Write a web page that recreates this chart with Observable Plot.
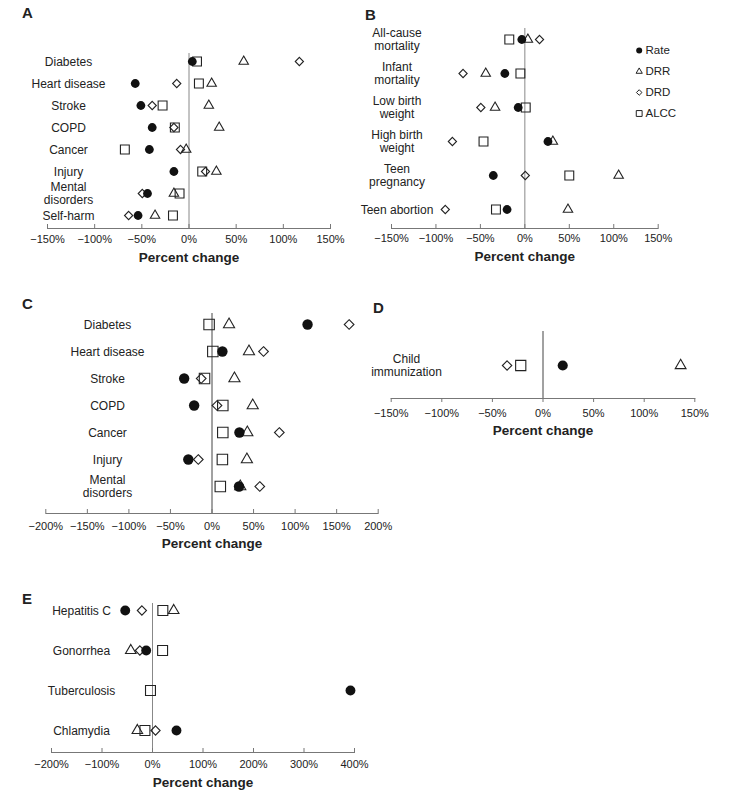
<!DOCTYPE html>
<html>
<head>
<meta charset="utf-8">
<script src="https://cdn.jsdelivr.net/npm/d3@7"></script>
<script src="https://cdn.jsdelivr.net/npm/@observablehq/plot@0.6"></script>
<style>
  body { margin: 0; background: #fff; }
  #root { position: relative; width: 732px; height: 810px; background: #fff; font-family: "Liberation Sans", Arial, sans-serif; color: #222; }
  .letter { position: absolute; font-weight: bold; font-size: 15px; line-height: 1; }
  .pnl { position: absolute; line-height: 0; }
  .pnl svg { overflow: visible; display: block; }
</style>
</head>
<body>
<div id="root"></div>
<script>
// ---------- data ----------
const seriesNames = ["Rate", "DRR", "DRD", "ALCC"];

// Panel A
const catsA = ["Diabetes", "Heart disease", "Stroke", "COPD", "Cancer", "Injury", "Mental\ndisorders", "Self-harm"];
const rateA = [3.5, -57, -51, -39, -42, -16, -44, -54];
const drrA  = [58, 24, 21, 32, -3, 29, -16, -36];
const drdA  = [117, -13, -39, -16, -9, 17.5, -49.5, -64];
const alccA = [8.5, 10.5, -28, -15, -68, 14, -10, -17];
const ticksA = [-150, -100, -50, 0, 50, 100, 150];

// Panel B
const catsB = ["All-cause\nmortality", "Infant\nmortality", "Low birth\nweight", "High birth\nweight", "Teen\npregnancy", "Teen abortion"];
const rateB = [-3.4, -22.5, -7.5, 26, -35.5, -20];
const drrB  = [3.4, -44, -33.5, 31.5, 105.5, 48.5];
const drdB  = [16.5, -69.5, -49.5, -81.5, 0.5, -89.5];
const alccB = [-17.5, -5, 1, -46.5, 50, -32.5];
const ticksB = [-150, -100, -50, 0, 50, 100, 150];

// Panel C
const catsC = ["Diabetes", "Heart disease", "Stroke", "COPD", "Cancer", "Injury", "Mental\ndisorders"];
const rateC = [115, 12.5, -33.5, -21.5, 33, -28.5, 32.5];
const drrC  = [20.5, 44.5, 27, 49, 42.5, 42, 34];
const drdC  = [165, 62, -13, 6, 81, -16.5, 57.5];
const alccC = [-3.5, 1, -9, 13, 13, 12.5, 10];
const ticksC = [-200, -150, -100, -50, 0, 50, 100, 150, 200];

// Panel D
const catsD = ["Child\nimmunization"];
const rateD = [19.5];
const drrD  = [136];
const drdD  = [-35.5];
const alccD = [-22];
const ticksD = [-150, -100, -50, 0, 50, 100, 150];

// Panel E
const catsE = ["Hepatitis C", "Gonorrhea", "Tuberculosis", "Chlamydia"];
const rateE = [-54, -12.5, 392, 47.5];
const drrE  = [42, -43, null, -30];
const drdE  = [-21, -25, null, 6];
const alccE = [20.5, 20, -4, -15];
const ticksE = [-200, -100, 0, 100, 200, 300, 400];

// ---------- helpers ----------
const root = document.getElementById("root");
const FONT = "Liberation Sans, Arial, sans-serif";
const INK = "#222";
const fmt = d => (d < 0 ? "\u2212" : "") + Math.abs(d) + "%";

function rows(cats, vals) {
  return cats.map((c, i) => ({cat: c, value: vals[i]})).filter(d => d.value != null);
}

function place(node, left, top) {
  const wrap = document.createElement("div");
  wrap.className = "pnl";
  wrap.style.left = left + "px";
  wrap.style.top = top + "px";
  wrap.appendChild(node);
  root.appendChild(wrap);
}

function letter(txt, left, top) {
  const d = document.createElement("div");
  d.className = "letter";
  d.textContent = txt;
  d.style.left = left + "px";
  d.style.top = top + "px";
  root.appendChild(d);
}

function panel(cfg) {
  const {cats, rate, drr, drd, alcc, ticks, left, top, width, height, ml, mr, mt, mb,
         yRange, labelDx, s, tickDown, pad, titleDy, zeroColor} = cfg;
  const plotH = height - mt - mb;
  const axisColor = "#777";
  const tickMark = tickDown
    ? Plot.ruleX(ticks, {x: d => d, stroke: axisColor, insetTop: plotH, insetBottom: -4})
    : Plot.ruleX(ticks, {x: d => d, stroke: axisColor, insetTop: plotH - 4});
  const chart = Plot.plot({
    width, height,
    marginLeft: ml, marginRight: mr, marginTop: mt, marginBottom: mb,
    style: {fontFamily: FONT, background: "transparent", color: INK, overflow: "visible"},
    x: {domain: [ticks[0], ticks[ticks.length - 1]]},
    y: {type: "point", domain: cats, range: yRange, padding: 0, axis: null},
    marks: [
      Plot.ruleX([0], {stroke: zeroColor, strokeWidth: 1}),
      Plot.frame({anchor: "bottom", stroke: axisColor}),
      tickMark,
      Plot.axisX({ticks, tickFormat: fmt, tickSize: 0, tickPadding: pad, fontSize: 11, label: null, fill: INK}),
      Plot.text(cats, {y: d => d, text: d => d, frameAnchor: "left", dx: labelDx, textAnchor: "middle", fontSize: 12, lineHeight: 1.08, fill: INK}),
      Plot.text(["Percent change"], {text: d => d, frameAnchor: "bottom", dy: titleDy, fontWeight: "bold", fontSize: 13.5, fill: INK}),
      Plot.dot(rows(cats, alcc), {x: "value", y: "cat", symbol: "square", r: 5.0 * s, fill: "none", stroke: INK, strokeWidth: 1.1}),
      Plot.dot(rows(cats, drd),  {x: "value", y: "cat", symbol: "diamond2", r: 3.7 * s, fill: "none", stroke: INK, strokeWidth: 1.1}),
      Plot.dot(rows(cats, drr),  {x: "value", y: "cat", symbol: "triangle", r: 3.5 * s, fill: "none", stroke: INK, strokeWidth: 1.1}),
      Plot.dot(rows(cats, rate), {x: "value", y: "cat", symbol: "circle", r: 4.4 * s, fill: "#111", stroke: "none"})
    ]
  });
  place(chart, left, top);
}

// ---------- panels ----------
panel({cats: catsA, rate: rateA, drr: drrA, drd: drdA, alcc: alccA, ticks: ticksA,
  left: 0, top: 40, width: 345, height: 233, ml: 47, mr: 15, mt: 13, mb: 45,
  yRange: [21, 175], labelDx: 21, s: 1, tickDown: false, pad: 7, titleDy: 33, zeroColor: "#888"});

panel({cats: catsB, rate: rateB, drr: drrB, drd: drdB, alcc: alccB, ticks: ticksB,
  left: 360, top: 15, width: 372, height: 258, ml: 31, mr: 74.3, mt: 13, mb: 45,
  yRange: [23, 194], labelDx: 5.5, s: 1, tickDown: false, pad: 6, titleDy: 32, zeroColor: "#888"});

panel({cats: catsC, rate: rateC, drr: drrC, drd: drdC, alcc: alccC, ticks: ticksC,
  left: 0, top: 300, width: 392, height: 258, ml: 45.3, mr: 14.3, mt: 13, mb: 45,
  yRange: [23.3, 186], labelDx: 61.7, s: 1.18, tickDown: false, pad: 8.5, titleDy: 34, zeroColor: "#444"});

panel({cats: catsD, rate: rateD, drr: drrD, drd: drdD, alcc: alccD, ticks: ticksD,
  left: 360, top: 320, width: 372, height: 123, ml: 30.7, mr: 37.7, mt: 11, mb: 45,
  yRange: [45, 45], labelDx: 15.3, s: 1.15, tickDown: true, pad: 11, titleDy: 36, zeroColor: "#444"});

panel({cats: catsE, rate: rateE, drr: drrE, drd: drdE, alcc: alccE, ticks: ticksE,
  left: 0, top: 590, width: 370, height: 207, ml: 51, mr: 16, mt: 13, mb: 45,
  yRange: [19.3, 140.7], labelDx: 30, s: 1.12, tickDown: false, pad: 8, titleDy: 34, zeroColor: "#888"});

// ---------- legend (panel B) ----------
const legendSymbols = ["circle", "triangle", "diamond2", "square"];
const legendR = [3, 2.3, 2.5, 3.3];
const legendMarks = seriesNames.map((name, i) =>
  Plot.dot([name], {y: d => d, frameAnchor: "left", dx: 8.7, symbol: legendSymbols[i], r: legendR[i],
    fill: name === "Rate" ? "#111" : "none", stroke: name === "Rate" ? "none" : INK, strokeWidth: 1})
);
const legend = Plot.plot({
  width: 70, height: 90,
  marginLeft: 0, marginRight: 0, marginTop: 0, marginBottom: 0,
  style: {fontFamily: FONT, background: "transparent", color: INK, overflow: "visible"},
  y: {type: "point", domain: seriesNames, range: [10, 73], padding: 0, axis: null},
  marks: [
    ...legendMarks,
    Plot.text(seriesNames, {y: d => d, text: d => d, frameAnchor: "left", dx: 15, textAnchor: "start", fontSize: 11.5, fill: INK})
  ]
});
place(legend, 630, 40);

// ---------- panel letters ----------
letter("A", 22, 5);
letter("B", 365, 7);
letter("C", 22, 296);
letter("D", 373, 300);
letter("E", 22, 591);
</script>
</body>
</html>
